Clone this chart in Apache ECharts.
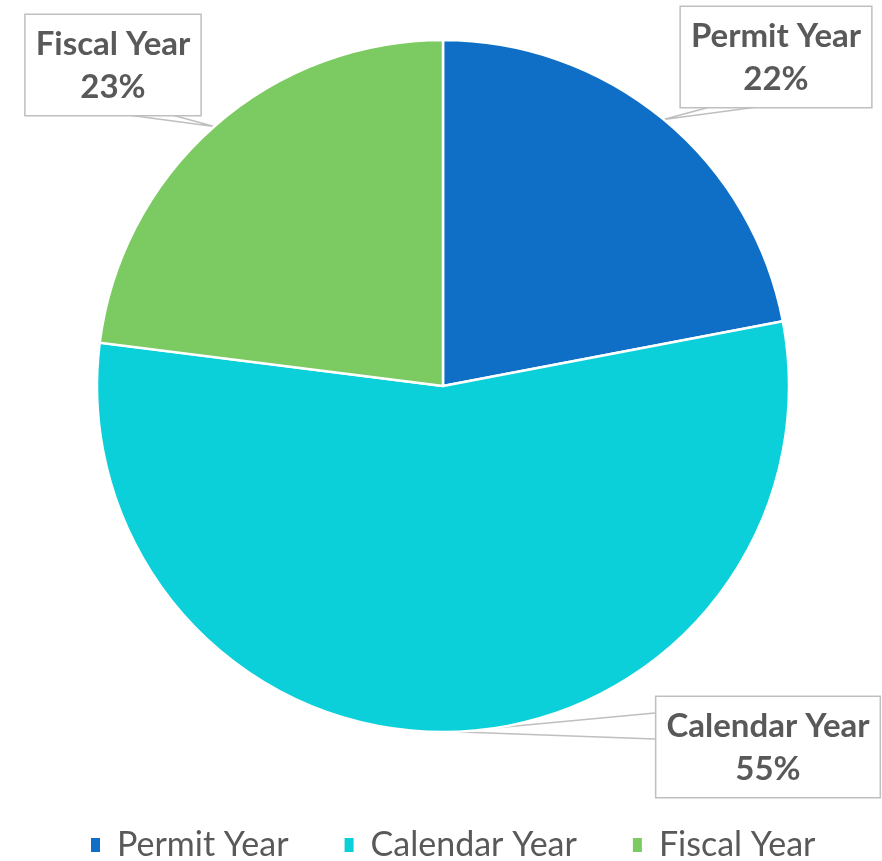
<!DOCTYPE html>
<html>
<head>
<meta charset="utf-8">
<script src="https://cdn.jsdelivr.net/npm/echarts@6/dist/echarts.min.js"></script>
<style>html,body{margin:0;padding:0;background:#fff}#c{width:882px;height:861px}</style>
</head>
<body>
<div id="c"></div>
<script>
const categories = ['Permit Year', 'Calendar Year', 'Fiscal Year'];
const values = [22, 55, 23];
const colors = ['#0F6FC6', '#0BD0D9', '#7CCA62'];

// label callout boxes: center x, top y, and the two box-edge points of the pointer
const labelBoxes = [
  { cx: 776, top: 7,   p1: [710, 107], p2: [757, 107] },
  { cx: 768, top: 697, p1: [655, 713], p2: [655, 739] },
  { cx: 113, top: 15,  p1: [128, 115], p2: [172, 115] }
];

const chart = echarts.init(document.getElementById('c'), null, { renderer: 'canvas' });
chart.setOption({
  backgroundColor: '#ffffff',
  animation: false,
  color: colors,
  legend: {
    data: categories,
    top: 822,
    left: 84,
    icon: 'rect',
    itemWidth: 11,
    itemHeight: 16,
    itemGap: 54,
    textStyle: { fontFamily: 'Lato', fontSize: 34, lineHeight: 36, color: '#595959', padding: [0, 0, 0, 11] }
  },
  series: [{
    type: 'pie',
    center: [443, 386],
    radius: 346,
    startAngle: 90,
    clockwise: true,
    avoidLabelOverlap: false,
    itemStyle: { borderColor: '#ffffff', borderWidth: 2.5 },
    label: {
      show: true,
      position: 'outside',
      formatter: p => p.name + '\n' + Math.round(p.percent) + '%',
      fontFamily: 'Lato',
      fontWeight: 'bold',
      fontSize: 33,
      lineHeight: 43,
      color: '#595959',
      align: 'center',
      backgroundColor: '#ffffff',
      borderColor: '#BFBFBF',
      borderWidth: 1.5,
      padding: [8, 10, 6, 10]
    },
    labelLine: { show: true, lineStyle: { color: '#BFBFBF', width: 1.5 } },
    labelLayout: function (params) {
      const b = labelBoxes[params.dataIndex];
      const a = params.labelLinePoints ? params.labelLinePoints[0] : null;
      const res = { x: b.cx, y: b.top, align: 'center', verticalAlign: 'top' };
      if (a) res.labelLinePoints = [b.p1, a, b.p2];
      return res;
    },
    data: categories.map((n, i) => ({ name: n, value: values[i] }))
  }]
});
</script>
</body>
</html>
